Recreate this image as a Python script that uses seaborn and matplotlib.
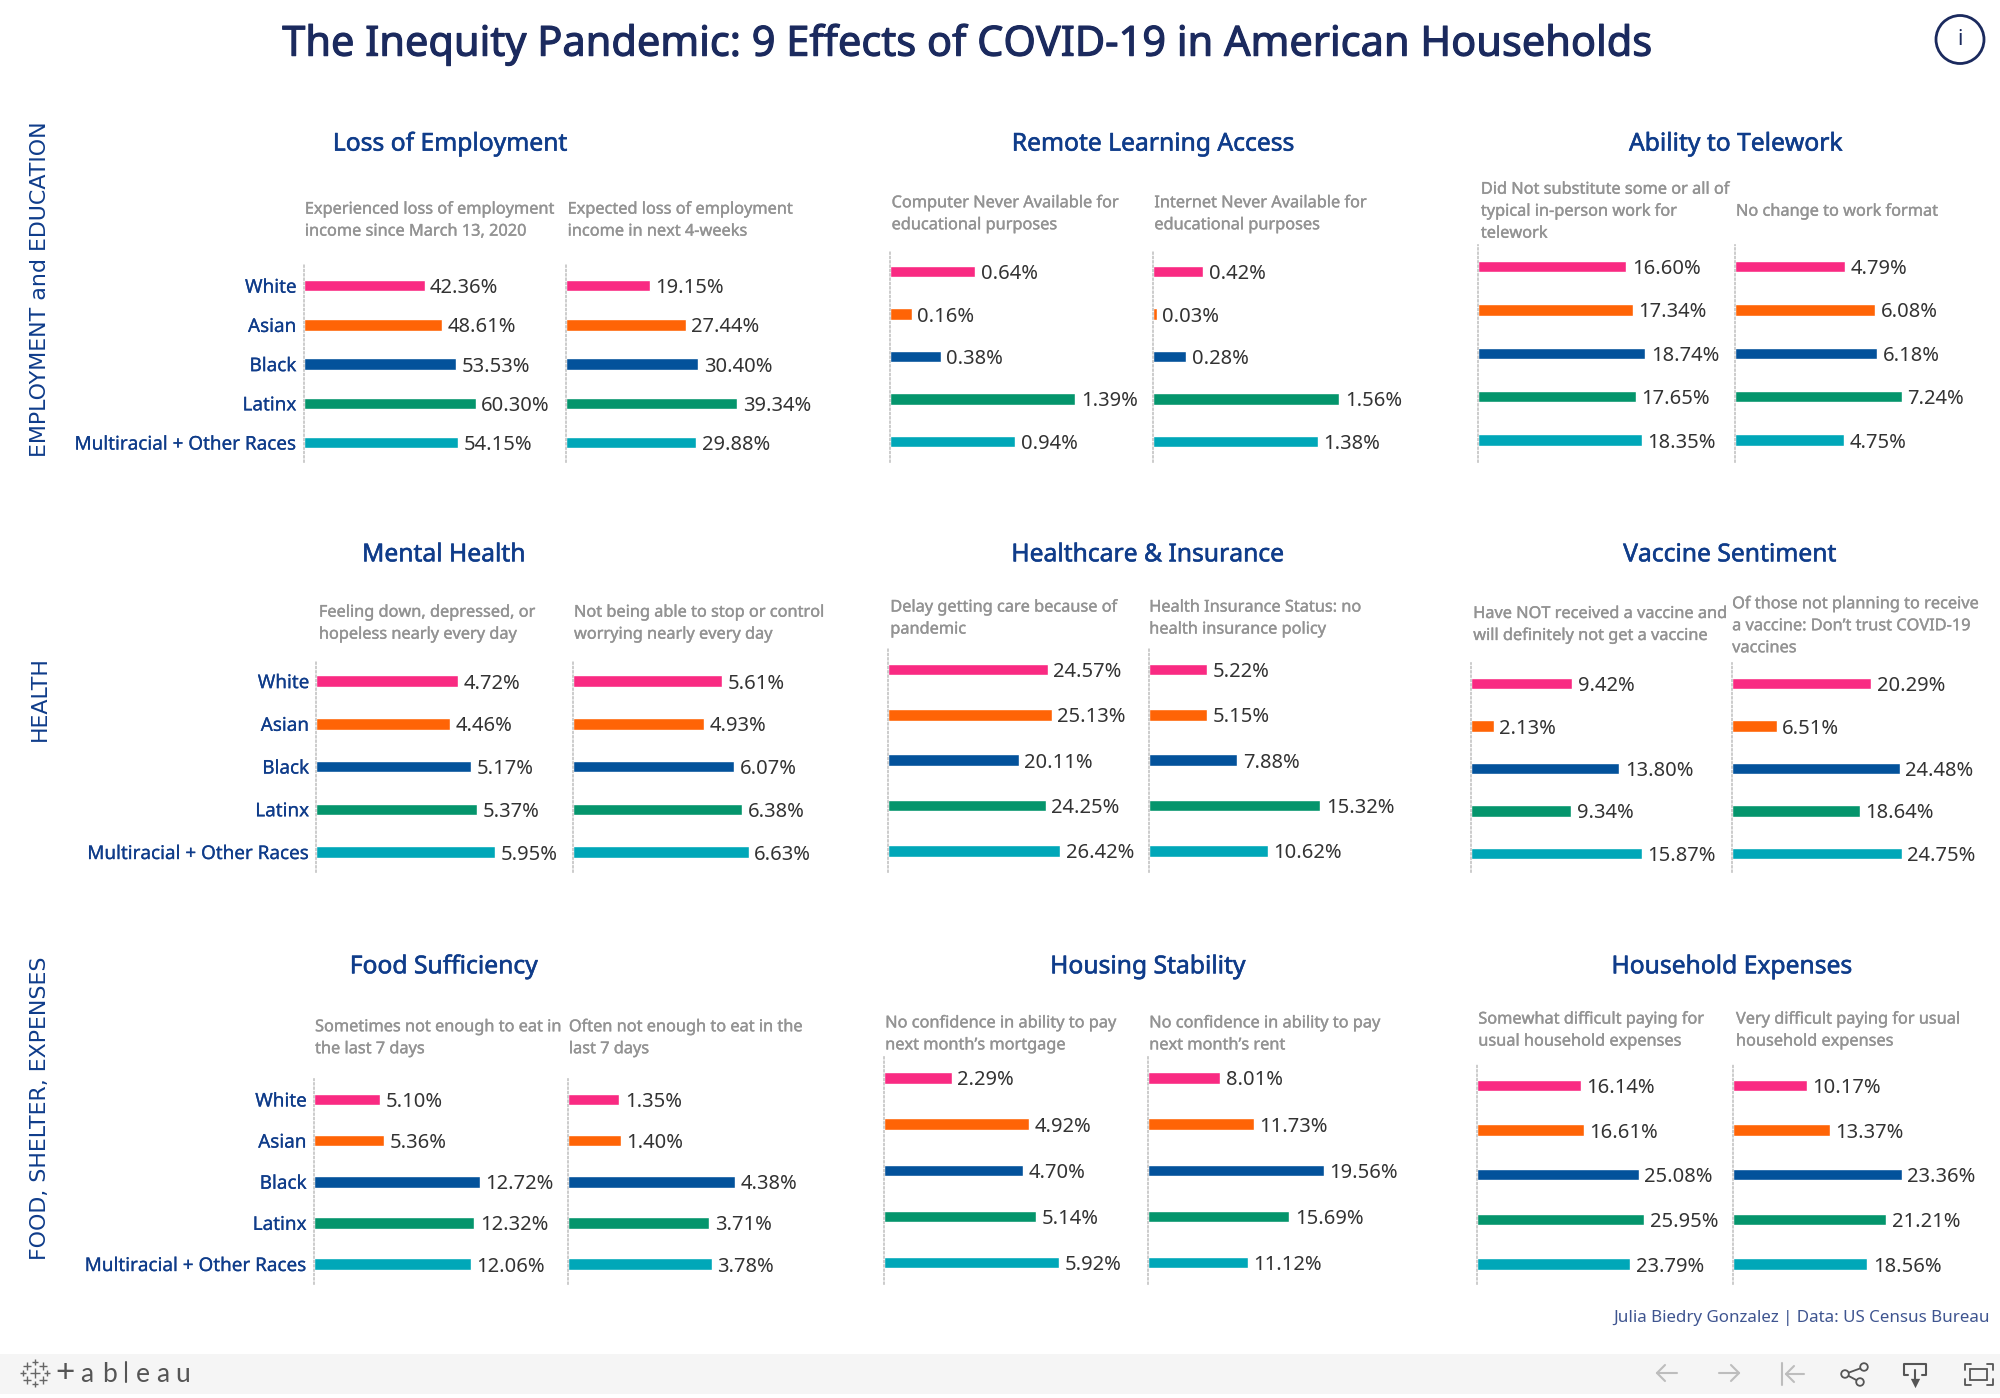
import pandas as pd
import numpy as np
import matplotlib
matplotlib.use('Agg')
import matplotlib.pyplot as plt
import matplotlib.patheffects as pe
import seaborn as sns
from matplotlib.patches import Circle, Rectangle

# Categories and colours
races = ['White', 'Asian', 'Black', 'Latinx', 'Multiracial + Other Races']
race_colors = ['#F92A82', '#FF6406', '#03529B', '#04956C', '#00A7B8']

# Values, one list per small panel
lost_income = [42.36, 48.61, 53.53, 60.30, 54.15]
expected_loss = [19.15, 27.44, 30.40, 39.34, 29.88]
no_computer = [0.64, 0.16, 0.38, 1.39, 0.94]
no_internet = [0.42, 0.03, 0.28, 1.56, 1.38]
no_telework = [16.60, 17.34, 18.74, 17.65, 18.35]
no_change_work = [4.79, 6.08, 6.18, 7.24, 4.75]
feeling_down = [4.72, 4.46, 5.17, 5.37, 5.95]
worrying = [5.61, 4.93, 6.07, 6.38, 6.63]
delay_care = [24.57, 25.13, 20.11, 24.25, 26.42]
no_insurance = [5.22, 5.15, 7.88, 15.32, 10.62]
no_vaccine = [9.42, 2.13, 13.80, 9.34, 15.87]
no_trust_vaccine = [20.29, 6.51, 24.48, 18.64, 24.75]
food_sometimes = [5.10, 5.36, 12.72, 12.32, 12.06]
food_often = [1.35, 1.40, 4.38, 3.71, 3.78]
no_mortgage = [2.29, 4.92, 4.70, 5.14, 5.92]
no_rent = [8.01, 11.73, 19.56, 15.69, 11.12]
somewhat_difficult = [16.14, 16.61, 25.08, 25.95, 23.79]
very_difficult = [10.17, 13.37, 23.36, 21.21, 18.56]

# Text
main_title = 'The Inequity Pandemic: 9 Effects of COVID-19 in American Households'
credit = 'Julia Biedry Gonzalez | Data: US Census Bureau'
group_titles = [('Loss of Employment', 353, 113), ('Remote Learning Access', 904, 113),
                ('Ability to Telework', 1361, 113), ('Mental Health', 348, 435),
                ('Healthcare & Insurance', 900, 435), ('Vaccine Sentiment', 1356, 435),
                ('Food Sufficiency', 348, 758), ('Housing Stability', 900, 758),
                ('Household Expenses', 1358, 758)]
row_titles = [('EMPLOYMENT and EDUCATION', 227), ('HEALTH', 548), ('FOOD, SHELTER, EXPENSES', 869)]

# Layout is measured on a 1568 wide screenshot, S converts it to output pixels
S = 2000 / 1568
FIG_W, FIG_H = 2000, 1398
NAVY = '#1B2A5E'
BLUE = '#0F3C8A'
GRAY = '#939393'
FONT = 'Noto Sans'

# values, x0, longest bar length, first bar y, last bar y, dotted top, dotted bottom, caption, caption x, caption y
panels = [
    (lost_income, 238, 135, 224, 347, 208, 362, 'Experienced loss of employment\nincome since March 13, 2020', 239, 173),
    (expected_loss, 444, 134, 224, 347, 208, 362, 'Expected loss of employment\nincome in next 4-weeks', 445, 173),
    (no_computer, 698, 145, 213, 346, 196, 362, 'Computer Never Available for\neducational purposes', 699, 168),
    (no_internet, 904, 146, 213, 346, 196, 362, 'Internet Never Available for\neducational purposes', 905, 168),
    (no_telework, 1159, 131, 209, 345, 192, 362, 'Did Not substitute some or all of\ntypical in-person work for\ntelework', 1161, 166),
    (no_change_work, 1360, 131, 209, 345, 192, 362, 'No change to work format', 1361, 166),
    (feeling_down, 248, 140, 534, 668, 518, 684, 'Feeling down, depressed, or\nhopeless nearly every day', 250, 489),
    (worrying, 449, 138, 534, 668, 518, 684, 'Not being able to stop or control\nworrying nearly every day', 450, 489),
    (delay_care, 696, 135, 525, 667, 509, 684, 'Delay getting care because of\npandemic', 698, 485),
    (no_insurance, 901, 134, 525, 667, 509, 684, 'Health Insurance Status: no\nhealth insurance policy', 901, 485),
    (no_vaccine, 1153, 134, 536, 669, 520, 684, 'Have NOT received a vaccine and\nwill definitely not get a vaccine', 1155, 490),
    (no_trust_vaccine, 1358, 133, 536, 669, 520, 684, 'Of those not planning to receive\na vaccine: Don\u2019t trust COVID-19\nvaccines', 1358, 491),
    (food_sometimes, 246, 130, 862, 991, 846, 1007, 'Sometimes not enough to eat in\nthe last 7 days', 247, 814),
    (food_often, 445, 131, 862, 991, 846, 1007, 'Often not enough to eat in the\nlast 7 days', 446, 814),
    (no_mortgage, 693, 137, 845, 990, 829, 1007, 'No confidence in ability to pay\nnext month\u2019s mortgage', 694, 811),
    (no_rent, 900, 138, 845, 990, 829, 1007, 'No confidence in ability to pay\nnext month\u2019s rent', 901, 811),
    (somewhat_difficult, 1158, 131, 851, 991, 835, 1007, 'Somewhat difficult paying for\nusual household expenses', 1159, 808),
    (very_difficult, 1359, 132, 851, 991, 835, 1007, 'Very difficult paying for usual\nhousehold expenses', 1361, 808),
]
# panels whose axis carries the race names
labelled = [0, 6, 12]

sns.set_theme(style='white')
plt.rcParams['font.family'] = [FONT, 'DejaVu Sans']

fig = plt.figure(figsize=(FIG_W / 100, FIG_H / 100), dpi=100, facecolor='white')


def heavier(color, width):
    # no medium weight is installed, a thin stroke gets close
    return [pe.withStroke(linewidth=width, foreground=color)]


# Overlay in pixel coordinates for titles and toolbar
ov = fig.add_axes([0, 0, 1, 1], zorder=0)
ov.set_xlim(0, FIG_W)
ov.set_ylim(FIG_H, 0)
ov.axis('off')

ov.text(757.5 * S, 35 * S, main_title, color=NAVY, fontsize=29.9, ha='center', va='center',
        path_effects=heavier(NAVY, 0.8))
ov.add_patch(Circle((1960, 39.5), 24, fill=False, ec=NAVY, lw=2))
ov.text(1960, 39.5, 'i', color=NAVY, fontsize=15, ha='center', va='center')

for title, cx, cy in group_titles:
    ov.text(cx * S, cy * S, title, color=BLUE, fontsize=17.75, ha='center', va='center',
            path_effects=heavier(BLUE, 0.4))
for title, cy in row_titles:
    ov.text(31 * S, cy * S, title, color=BLUE, fontsize=15.9, ha='center', va='center',
            rotation=90, family='DejaVu Sans')

# Small bar panels
for i, (vals, x0, bar_px, y_first, y_last, top, bottom, caption, cap_x, cap_y) in enumerate(panels):
    step = (y_last - y_first) / 4
    ax = fig.add_axes([x0 * S / FIG_W, 1 - bottom * S / FIG_H, bar_px * S / FIG_W, (bottom - top) * S / FIG_H],
                      zorder=1)
    ax.patch.set_alpha(0)
    df = pd.DataFrame({'race': races, 'value': vals})
    sns.barplot(data=df, x='value', y='race', hue='race', order=races, hue_order=races,
                palette=race_colors, width=9 / step, dodge=False, legend=False, saturation=1, ax=ax)
    ax.set_xlim(0, max(vals))
    ax.set_ylim(4 + (bottom - y_last) / step, (top - y_first) / step)
    ax.set_xlabel('')
    ax.set_ylabel('')
    ax.set_xticks([])
    ax.tick_params(axis='y', length=0, pad=5)
    if i in labelled:
        ax.set_yticks(range(5), races, color=BLUE, fontsize=13.6)
        for lab in ax.get_yticklabels():
            lab.set_path_effects(heavier(BLUE, 0.15))
    else:
        ax.set_yticks([])
    for name in ['top', 'right', 'bottom']:
        ax.spines[name].set_visible(False)
    ax.spines['left'].set_color('#C4C4C4')
    ax.spines['left'].set_linestyle((0, (1, 1.6)))
    ax.spines['left'].set_linewidth(1.2)
    for container in ax.containers:
        for ann in ax.bar_label(container, fmt='%.2f%%', padding=4, fontsize=14.5, color='#333333'):
            ann.xyann = (ann.xyann[0], ann.xyann[1] - 1.8)
    ov.text(cap_x * S, cap_y * S, caption, color=GRAY, fontsize=11.75, ha='left', va='center', linespacing=1.5,
            path_effects=heavier(GRAY, 0.25))

ov.text(1990, 1318, credit, color='#3F5590', fontsize=12.2, ha='right', va='center')

# Tableau toolbar
ov.add_patch(Rectangle((0, 1354), FIG_W, 40, fc='#F5F5F5', ec='none'))
ov.scatter([35, 35, 35, 23, 47, 27, 43, 27, 43], [1373, 1362, 1384, 1373, 1373, 1366, 1366, 1380, 1380],
           marker='+', s=[60, 22, 22, 22, 22, 30, 30, 30, 30], c='#666666', linewidths=1)
ov.text(65, 1373, '+', color='#555555', fontsize=24, ha='center', va='center', family='Lato')
for letter, x in zip(['a', 'b', 'e', 'a', 'u'], [87, 109, 143, 163, 183]):
    ov.text(x, 1374, letter, color='#555555', fontsize=19, ha='center', va='center', family='Lato')
ov.plot([126, 126], [1362, 1382], color='#555555', lw=1.5)

light = '#BDBDBD'
dark = '#555555'
ov.plot([1657, 1677], [1373, 1373], color=light, lw=1.5)
ov.plot([1665, 1657, 1665], [1365, 1373, 1381], color=light, lw=1.5)
ov.plot([1719, 1739], [1373, 1373], color=light, lw=1.5)
ov.plot([1731, 1739, 1731], [1365, 1373, 1381], color=light, lw=1.5)
ov.plot([1782, 1782], [1363, 1385], color=light, lw=1.5)
ov.plot([1786, 1804], [1374, 1374], color=light, lw=1.5)
ov.plot([1794, 1786, 1794], [1366, 1374, 1382], color=light, lw=1.5)

ov.plot([1864, 1845, 1860], [1367, 1374, 1382], color=dark, lw=1.3)
for px, py in [(1864, 1367), (1845, 1374), (1860, 1382)]:
    ov.add_patch(Circle((px, py), 3.8, fc='#F5F5F5', ec=dark, lw=1.3, zorder=3))

ov.plot([1908, 1904, 1904, 1926, 1926, 1922], [1375, 1375, 1364, 1364, 1375, 1375], color=dark, lw=1.5)
ov.plot([1915, 1915], [1370, 1382], color=dark, lw=1.5)
ov.scatter([1915], [1383], marker='v', s=45, c=dark, linewidths=0)

for cx, cy, dx, dy in [(1965, 1364, 1, 1), (1993, 1364, -1, 1), (1965, 1385, 1, -1), (1993, 1385, -1, -1)]:
    ov.plot([cx, cx, cx + 6 * dx], [cy + 6 * dy, cy, cy], color=dark, lw=1.3)
ov.add_patch(Rectangle((1970, 1369), 17, 11, fill=False, ec=dark, lw=1.3))

fig.savefig('out.png', dpi=100, facecolor='white')
